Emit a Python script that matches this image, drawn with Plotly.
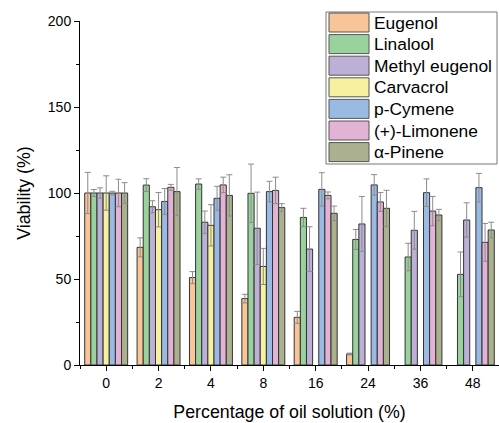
import plotly.graph_objects as go

# Oil concentrations (%) on the x axis
concentrations = ["0", "2", "4", "8", "16", "24", "36", "48"]

# Mean viability (%) per compound, and standard deviations
eugenol = [100, 68.4, 50.8, 38.6, 27.7, 6.4, None, None]
eugenol_sd = [12, 5.5, 3.5, 2.5, 3.5, 0.5, 0, 0]

linalool = [100, 104.6, 105.2, 99.8, 85.8, 73.0, 62.8, 52.7]
linalool_sd = [2, 3.7, 3, 17, 5.3, 5.8, 8, 13]

methyl_eugenol = [100, 92.0, 83.0, 79.5, 67.4, 82.0, 78.3, 84.3]
methyl_eugenol_sd = [3, 3.5, 6.5, 21, 13, 16, 11, 10]

carvacrol = [100, 90.3, 81.2, 57.3, None, None, None, None]
carvacrol_sd = [10, 10, 12, 10.5, 0, 0, 0, 0]

p_cymene = [100, 95.1, 96.9, 100.8, 102.1, 104.7, 100.2, 103.1]
p_cymene_sd = [1, 7.5, 7, 6, 9.7, 6, 8, 8.3]

limonene = [100, 103.3, 104.7, 101.5, 98.6, 94.8, 89.5, 71.3]
limonene_sd = [8, 1.7, 4.5, 7.7, 2, 5.5, 8.5, 11]

pinene = [100, 100.8, 98.6, 91.5, 88.2, 91.1, 87.2, 78.5]
pinene_sd = [6, 14, 12, 2.3, 4.2, 10.5, 3.3, 4.5]

names = ["Eugenol", "Linalool", "Methyl eugenol", "Carvacrol",
         "p-Cymene", "(+)-Limonene", "α-Pinene"]
series = [eugenol, linalool, methyl_eugenol, carvacrol, p_cymene, limonene, pinene]
errors = [eugenol_sd, linalool_sd, methyl_eugenol_sd, carvacrol_sd,
          p_cymene_sd, limonene_sd, pinene_sd]
colors = ["#F8C598", "#9AD29E", "#BDB0D6", "#F5F1A0",
          "#9BBAE3", "#E3B3D5", "#ABB18E"]

FONT = "Liberation Sans, Arial, sans-serif"
W, H = 499, 423
ML, MR, MT, MB = 80, 0, 21, 58
PW, PH = W - ML - MR, H - MT - MB

xpos = list(range(len(concentrations)))

fig = go.Figure()
for name, vals, sd, col in zip(names, series, errors, colors):
    fig.add_trace(go.Bar(
        x=xpos, y=vals, name=name,
        marker=dict(color=col, line=dict(color="#333333", width=1)),
        error_y=dict(type="data", array=sd, visible=True,
                     color="#8c8c8c", thickness=1, width=3),
        showlegend=False,
    ))


def px_x(p):
    return (p - ML) / PW


def px_y(p):
    return (H - MB - p) / PH


# Legend drawn as boxed swatches with labels
shapes = [dict(type="rect", xref="paper", yref="paper",
               x0=px_x(326), x1=px_x(497), y0=px_y(164), y1=px_y(12),
               line=dict(color="#777777", width=1), fillcolor="white", layer="above")]
annotations = []
row0, pitch, sh = 22.5, 21.6, 19
for i, (name, col) in enumerate(zip(names, colors)):
    cy = row0 + i * pitch
    shapes.append(dict(type="rect", xref="paper", yref="paper",
                       x0=px_x(329), x1=px_x(369),
                       y0=px_y(cy + sh / 2), y1=px_y(cy - sh / 2),
                       line=dict(color="#555555", width=1), fillcolor=col,
                       layer="above"))
    annotations.append(dict(xref="paper", yref="paper", x=px_x(372), y=px_y(cy),
                            text=name, showarrow=False, xanchor="left",
                            yanchor="middle",
                            font=dict(family=FONT, size=17.4, color="black")))

fig.update_layout(
    width=W, height=H,
    margin=dict(l=ML, r=MR, t=MT, b=MB),
    paper_bgcolor="white", plot_bgcolor="white",
    barmode="group", bargap=0.18, bargroupgap=0,
    font=dict(family=FONT, color="black"),
    shapes=shapes, annotations=annotations,
    showlegend=False,
)
fig.update_xaxes(
    range=[-0.5, 7.5], tickvals=xpos, ticktext=concentrations,
    showline=True, linecolor="black", linewidth=1,
    ticks="outside", ticklen=5, tickcolor="black",
    minor=dict(tick0=0.5, dtick=1, ticks="outside", ticklen=3, tickcolor="black"),
    showgrid=False, zeroline=False,
    tickfont=dict(family=FONT, size=14),
    title=dict(text="Percentage of oil solution (%)",
               font=dict(family=FONT, size=17.8), standoff=15),
)
fig.update_yaxes(
    range=[0, 200], tickvals=[0, 50, 100, 150, 200],
    showline=True, linecolor="black", linewidth=1,
    ticks="outside", ticklen=5, tickcolor="black",
    minor=dict(tickvals=[25, 75, 125, 175], ticks="outside", ticklen=3,
               tickcolor="black"),
    showgrid=False, zeroline=False,
    tickfont=dict(family=FONT, size=14),
    title=dict(text="Viability (%)", font=dict(family=FONT, size=17.8), standoff=12),
)

fig.write_html("out.html")
